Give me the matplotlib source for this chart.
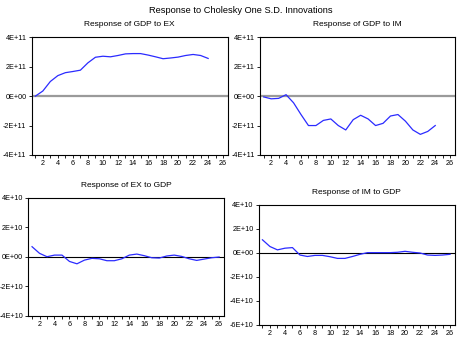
import matplotlib
matplotlib.use('Agg')
import matplotlib.pyplot as plt
import numpy as np

plt.rcParams['font.family'] = ['Liberation Sans', 'DejaVu Sans']

# impulse responses, in units of the y scale of each panel
gdp_to_ex = [0.0, 0.35, 1.0, 1.4, 1.6, 1.68, 1.77, 2.27, 2.65, 2.72, 2.68, 2.77,
             2.88, 2.9, 2.9, 2.8, 2.68, 2.55, 2.6, 2.66, 2.77, 2.84, 2.77, 2.57]
gdp_to_im = [-0.05, -0.18, -0.15, 0.1, -0.45, -1.25, -2.0, -2.0, -1.65, -1.55, -2.0, -2.3,
             -1.6, -1.3, -1.55, -2.0, -1.85, -1.35, -1.25, -1.7, -2.3, -2.6, -2.4, -2.0]
ex_to_gdp = [0.68, 0.23, 0.0, 0.11, 0.11, -0.32, -0.48, -0.23, -0.11, -0.14, -0.27, -0.27,
             -0.14, 0.11, 0.18, 0.07, -0.07, -0.09, 0.05, 0.11, 0.02, -0.14, -0.25, -0.16,
             -0.07, -0.02]
im_to_gdp = [1.1, 0.54, 0.26, 0.4, 0.45, -0.17, -0.29, -0.2, -0.2, -0.31, -0.45, -0.45,
             -0.29, -0.11, 0.03, 0.03, 0.03, 0.03, 0.06, 0.14, 0.06, 0.0, -0.17, -0.2,
             -0.17, -0.11]

scale_top = 1e11
scale_bot = 1e10

ticks_top = [4e11, 2e11, 0, -2e11, -4e11]
labels_top = ['4E+11', '2E+11', '0E+00', '-2E+11', '-4E+11']
ticks_bl = [4e10, 2e10, 0, -2e10, -4e10]
labels_bl = ['4E+10', '2E+10', '0E+00', '-2E+10', '-4E+10']
ticks_br = [4e10, 2e10, 0, -2e10, -4e10, -6e10]
labels_br = ['4E+10', '2E+10', '0E+00', '-2E+10', '-4E+10', '-6E+10']

panels = [
    ('Response of GDP to EX', gdp_to_ex, scale_top, ticks_top, labels_top,
     [0.068, 0.543, 0.4235, 0.3466], 'top'),
    ('Response of GDP to IM', gdp_to_im, scale_top, ticks_top, labels_top,
     [0.5603, 0.543, 0.4203, 0.3466], 'top'),
    ('Response of EX to GDP', ex_to_gdp, scale_bot, ticks_bl, labels_bl,
     [0.061, 0.0687, 0.4218, 0.348], 'bot'),
    ('Response of IM to GDP', im_to_gdp, scale_bot, ticks_br, labels_br,
     [0.5575, 0.0413, 0.423, 0.354], 'bot'),
]

fig = plt.figure(figsize=(4.64, 3.39), dpi=100)
fig.text(0.52, 0.983, 'Response to Cholesky One S.D. Innovations',
         ha='center', va='top', fontsize=6.7)

for title, vals, scale, yt, yl, rect, kind in panels:
    ax = fig.add_axes(rect)
    periods = np.arange(1, len(vals) + 1)
    y = np.array(vals) * scale
    if kind == 'top':
        ax.axhline(0, color='#9a9a9a', lw=1.6, zorder=1)
    else:
        ax.axhline(0, color='black', lw=0.8, zorder=1)
    ax.plot(periods, y, color='#2b2bff', lw=0.9, zorder=2)
    ax.set_xlim(0.5, 26.65)
    ax.set_ylim(yt[-1], yt[0])
    ax.set_yticks(yt)
    ax.set_yticklabels(yl)
    xt = np.arange(1, 27)
    ax.set_xticks(xt)
    ax.set_xticklabels([str(t) if t % 2 == 0 else '' for t in xt])
    ax.tick_params(direction='out', length=2.2, width=0.6, labelsize=5.2, pad=1.5)
    for s in ax.spines.values():
        s.set_linewidth(0.8)
        s.set_color('black')
    ax.set_title(title, fontsize=6, pad=8)

fig.savefig('out.png', dpi=100)
